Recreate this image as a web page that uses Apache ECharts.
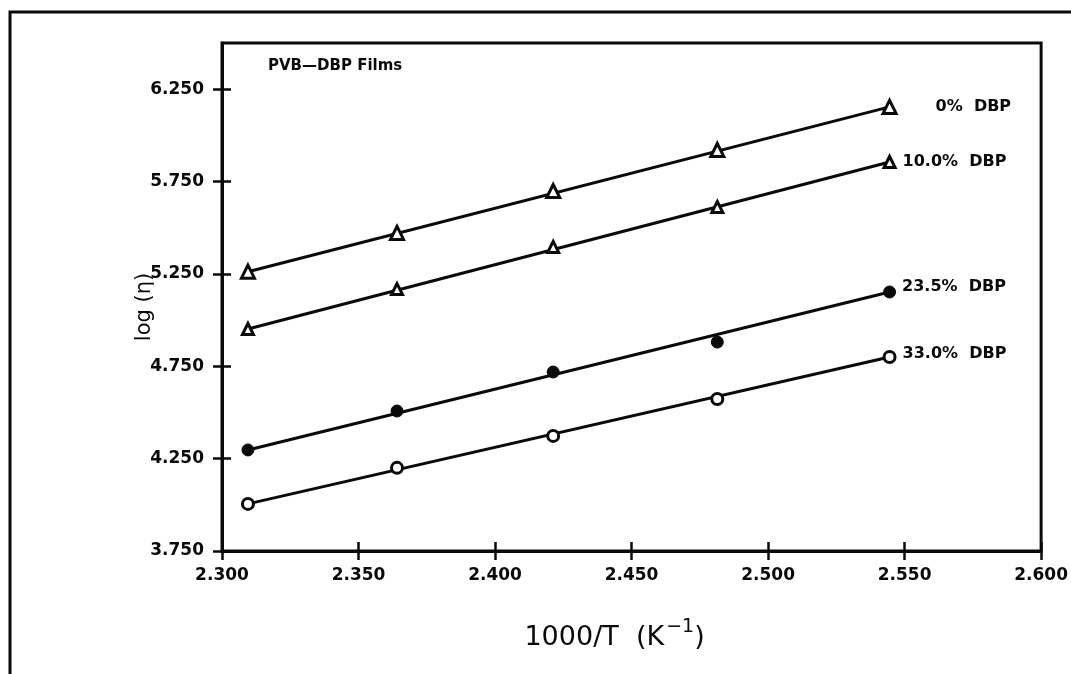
<!DOCTYPE html>
<html>
<head>
<meta charset="utf-8">
<script src="https://cdn.jsdelivr.net/npm/echarts@6/dist/echarts.min.js"></script>
<style>
  html, body { margin: 0; padding: 0; background: #fff; }
  #chart { width: 1071px; height: 674px; }
</style>
</head>
<body>
<div id="chart"></div>
<script>
// Reciprocal temperature, 1000/T (K^-1)
const invTemp = [2.3095, 2.3641, 2.4213, 2.4814, 2.5445];

// log(viscosity) for each plasticizer level
const dbp0   = [5.262, 5.472, 5.699, 5.921, 6.154];
const dbp10  = [4.952, 5.168, 5.396, 5.612, 5.856];
const dbp235 = [4.297, 4.508, 4.719, 4.881, 5.152];
const dbp33  = [4.005, 4.200, 4.373, 4.573, 4.800];

// Straight-line fits: ends at the first and last temperature
const fitX    = [2.3095, 2.5445];
const fit0    = [5.262, 6.154];
const fit10   = [4.952, 5.856];
const fit235  = [4.297, 5.152];
const fit33   = [4.005, 4.800];

const seriesNames = ['0%  DBP', '10.0%  DBP', '23.5%  DBP', '33.0%  DBP'];

// Axis ticks
const yTicks = [3.75, 4.25, 4.75, 5.25, 5.75, 6.25];
const xTicks = [2.30, 2.35, 2.40, 2.45, 2.50, 2.55, 2.60];

const INK = '#0a0a0a';
const tickFont = { fontFamily: 'DejaVu Sans', fontWeight: 'bold', fontSize: 17, color: INK };

function pairs(xs, ys) { return xs.map((x, i) => [x, ys[i]]); }

function markerSeries(name, ys, symbol, size, filled, labelOffset) {
  const data = pairs(invTemp, ys).map((p, i) => {
    const item = { value: p };
    if (i === ys.length - 1) {
      item.label = {
        show: true, position: 'right', distance: 6,
        offset: labelOffset,
        formatter: name,
        fontFamily: 'DejaVu Sans', fontWeight: 'bold', fontSize: 16, color: INK
      };
    }
    return item;
  });
  return {
    type: 'scatter', name: name, data: data,
    symbol: symbol, symbolSize: size, z: 5,
    itemStyle: filled
      ? { color: INK, borderColor: INK, borderWidth: 1, opacity: 1 }
      : { color: '#fff', borderColor: INK, borderWidth: 3, opacity: 1 }
  };
}

function fitSeries(ys) {
  return {
    type: 'line', data: pairs(fitX, ys), showSymbol: false, z: 3,
    lineStyle: { color: INK, width: 3 }, silent: true
  };
}

const xBase = { type: 'value', min: 2.3, max: 2.6, interval: 0.05 };
const yBase = { type: 'value', min: 3.75, max: 6.5 };

const option = {
  backgroundColor: '#fff',
  animation: false,
  grid: {
    left: 222, top: 43, right: 27, bottom: 123,
    show: true, borderColor: INK, borderWidth: 3, backgroundColor: 'transparent'
  },
  xAxis: [
    Object.assign({}, xBase, {
      position: 'bottom',
      name: '{t|1000/T  (K}{s|−1}{t|)}',
      nameLocation: 'middle', nameGap: 67, nameMoveOverlap: false,
      nameTextStyle: {
        padding: [0, 34, 0, 0],
        rich: {
          t: { fontFamily: 'DejaVu Sans', fontSize: 27, color: INK, verticalAlign: 'bottom' },
          s: { fontFamily: 'DejaVu Sans', fontSize: 19, color: INK, verticalAlign: 'bottom', padding: [0, 0, 14, 2] }
        }
      },
      axisLine: { show: true, onZero: false, lineStyle: { color: INK, width: 3 } },
      axisTick: { show: true, inside: false, length: 9, customValues: xTicks, lineStyle: { color: INK, width: 2.5 } },
      axisLabel: Object.assign({ margin: 16, customValues: xTicks, formatter: v => v.toFixed(3) }, tickFont),
      splitLine: { show: false }
    }),
    Object.assign({}, xBase, {
      position: 'bottom',
      axisLine: { show: false },
      axisTick: { show: true, inside: true, length: 9, customValues: xTicks, lineStyle: { color: INK, width: 2.5 } },
      axisLabel: { show: false },
      splitLine: { show: false }
    })
  ],
  yAxis: [
    Object.assign({}, yBase, {
      position: 'left',
      name: 'log (η)',
      nameLocation: 'middle', nameGap: 67, nameRotate: 90, nameMoveOverlap: false,
      nameTextStyle: { fontFamily: 'DejaVu Sans', fontSize: 21, color: INK, padding: [0, 20, 0, 0] },
      axisLine: { show: true, onZero: false, lineStyle: { color: INK, width: 3 } },
      axisTick: { show: true, inside: false, length: 9, customValues: yTicks, lineStyle: { color: INK, width: 2.5 } },
      axisLabel: Object.assign({ margin: 18, customValues: yTicks, formatter: v => v.toFixed(3) }, tickFont),
      splitLine: { show: false }
    }),
    Object.assign({}, yBase, {
      position: 'left',
      axisLine: { show: false },
      axisTick: { show: true, inside: true, length: 9, customValues: yTicks, lineStyle: { color: INK, width: 2.5 } },
      axisLabel: { show: false },
      splitLine: { show: false }
    })
  ],
  graphic: [
    // outer frame around the figure
    { type: 'polyline', shape: { points: [[10, 674], [10, 12], [1071, 12]] },
      style: { stroke: INK, lineWidth: 3, fill: null }, silent: true },
    { type: 'text', left: 268, top: 59,
      style: { text: 'PVB—DBP Films', fontFamily: 'DejaVu Sans', fontWeight: 'bold', fontSize: 15, fill: INK } }
  ],
  series: [
    fitSeries(fit0),
    fitSeries(fit10),
    fitSeries(fit235),
    fitSeries(fit33),
    markerSeries(seriesNames[0], dbp0, 'triangle', 13, false, [32, 0]),
    markerSeries(seriesNames[1], dbp10, 'triangle', 11, false, [0, 0]),
    markerSeries(seriesNames[2], dbp235, 'circle', 12, true, [0, -5]),
    markerSeries(seriesNames[3], dbp33, 'circle', 11, false, [0, -3])
  ]
};

const chart = echarts.init(document.getElementById('chart'), null, { renderer: 'canvas' });
chart.setOption(option);
</script>
</body>
</html>
